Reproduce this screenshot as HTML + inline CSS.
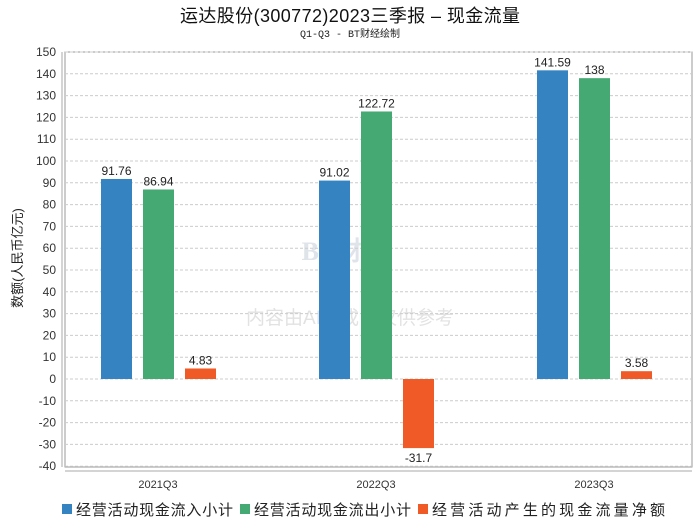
<!DOCTYPE html>
<html><head><meta charset="utf-8"><style>
body{margin:0;background:#fff;font-family:"Liberation Sans","Noto Sans CJK SC",sans-serif}
</style></head><body>
<svg width="700" height="524" id="c">
<text x="350" y="22" text-anchor="middle" font-size="18" textLength="340" fill="#111">运达股份(300772)2023三季报 – 现金流量</text>
<text x="350" y="37" text-anchor="middle" font-size="10" fill="#222" font-family="Liberation Mono,Noto Sans CJK SC,monospace">Q1-Q3 - BT财经绘制</text>
<text transform="translate(22,258) rotate(-90)" text-anchor="middle" font-size="13" fill="#222">数额(人民币亿元)</text>
<text x="345" y="260" text-anchor="middle" font-size="26" fill="#dfe3ea" font-weight="bold" font-family="Liberation Serif,serif">BT财经</text>
<text x="350" y="324" text-anchor="middle" font-size="19" fill="#e2e2e2">内容由AI生成，仅供参考</text>
<g id="g"></g>
</svg>
<script>
const categories=["2021Q3","2022Q3","2023Q3"];
const inflow=[91.76,91.02,141.59];
const outflow=[86.94,122.72,138];
const net=[4.83,-31.7,3.58];
const yTicks=[150,140,130,120,110,100,90,80,70,60,50,40,30,20,10,0,-10,-20,-30,-40];
const seriesNames=["经营活动现金流入小计","经营活动现金流出小计","经营活动产生的现金流量净额"];
const colors=["#3583c1","#45a973","#f05a27"];
const NS="http://www.w3.org/2000/svg";
const g=document.getElementById('g');
const L=65,R=692,T=52,B=467;
const y=v=>379-(v*(379-T)/150);
const gw=218;
const xc=i=>158+gw*i;
function el(t,a){const e=document.createElementNS(NS,t);for(const k in a)e.setAttribute(k,a[k]);g.appendChild(e);return e;}
let bx=el('rect',{x:L,y:T,width:R-L,height:B-T,fill:'none',stroke:'#999'});


yTicks.forEach(v=>{
 const ln=el('line',{x1:L,x2:R,y1:y(v),y2:y(v),stroke:'#ccc','stroke-dasharray':'3,2'});
 
 
 const t=el('text',{x:56,y:y(v)+4,'text-anchor':'end','font-size':12,fill:'#333'});t.textContent=v;
 
 
});
let ya=el('line',{x1:62,x2:62,y1:T,y2:B,stroke:'#aaa'});


let xa=el('line',{x1:L,x2:R,y1:471,y2:471,stroke:'#aaa'});


const series=[inflow,outflow,net];
categories.forEach((c,i)=>{
 const t=el('text',{x:xc(i),y:488,'text-anchor':'middle','font-size':11,fill:'#333'});t.textContent=c;
 
 
 series.forEach((s,j)=>{
  const v=s[i],x=xc(i)-57+j*42,y0=y(Math.max(v,0)),h=Math.abs(y(v)-y(0));
  const r=el('rect',{x:x,y:y0,width:31,height:h,fill:colors[j]});
  
  
  const lt=el('text',{x:x+15.5,y:v>=0?y(v)-4:y(v)+14,'text-anchor':'middle','font-size':12,fill:'#222'});lt.textContent=v;
  
  
 });
});
let lx=[62,240,418];
let lw=[157,157,233];
seriesNames.forEach((n,j)=>{
 const r=el('rect',{x:lx[j],y:504,width:10,height:10,fill:colors[j]});
 
 
 const t=el('text',{x:lx[j]+14,y:515,'font-size':15,fill:'#222',textLength:lw[j]});t.textContent=n;
 
 
});
</script>
</body></html>
